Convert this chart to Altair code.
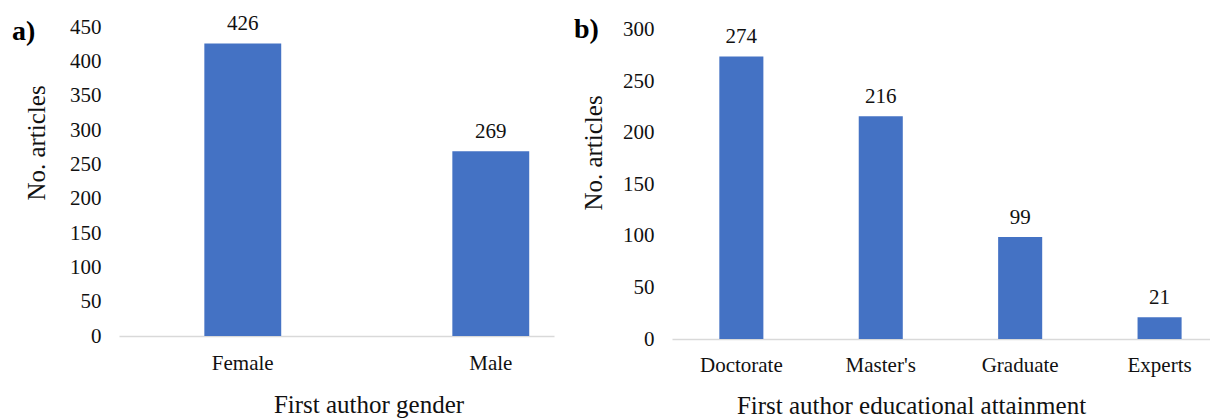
import altair as alt
import pandas as pd

# ---- data ----
gender_cats = ["Female", "Male"]
gender_vals = [426, 269]
edu_cats = ["Doctorate", "Master's", "Graduate", "Experts"]
edu_vals = [274, 216, 99, 21]
ticks_a = [0, 50, 100, 150, 200, 250, 300, 350, 400, 450]
ticks_b = [0, 50, 100, 150, 200, 250, 300]

FONT = "Liberation Serif"
BLUE = "#4472C4"
TXT = "#111111"
AXIS_GRAY = "#D9D9D9"


def panel(cats, vals, ticks, ymax, width, height, xtitle, tag, scale_x, title_x,
          title_y_x, title_y_y, label_pad_x, tag_x, tag_y, title_bottom_y):
    df = pd.DataFrame({"cat": cats, "val": vals})
    base = alt.Chart(df).encode(
        x=alt.X(
            "cat:N",
            sort=cats,
            scale=scale_x,
            axis=alt.Axis(
                title=xtitle,
                labelAngle=0,
                ticks=False,
                tickSize=0,
                labelPadding=label_pad_x,
                labelBaseline="alphabetic",
                labelFont=FONT,
                labelFontSize=21,
                labelColor=TXT,
                titleFont=FONT,
                titleFontSize=25,
                titleFontWeight="normal",
                titleColor=TXT,
                titleX=title_x,
                titleY=title_bottom_y,
                titleBaseline="alphabetic",
                titleAlign="center",
                domainColor=AXIS_GRAY,
                domainWidth=1.5,
                grid=False,
            ),
        ),
        y=alt.Y(
            "val:Q",
            scale=alt.Scale(domain=[0, ymax], nice=False, zero=True),
            axis=alt.Axis(
                values=ticks,
                title="No. articles",
                domain=False,
                ticks=False,
                tickSize=0,
                grid=False,
                labelPadding=18,
                labelFont=FONT,
                labelFontSize=21,
                labelColor=TXT,
                titleFont=FONT,
                titleFontSize=25,
                titleFontWeight="normal",
                titleColor=TXT,
                titleAngle=-90,
                titleX=title_y_x,
                titleY=title_y_y,
                titleBaseline="alphabetic",
                titleAlign="center",
            ),
        ),
    )
    bars = base.mark_bar(color=BLUE)
    labels = base.mark_text(
        dy=-13, baseline="alphabetic", fontSize=21, font=FONT, color=TXT
    ).encode(text="val:Q")
    tag_chart = alt.Chart(pd.DataFrame({"t": [tag]})).mark_text(
        align="left", baseline="alphabetic", fontSize=28, fontWeight="bold",
        font=FONT, color="#000000"
    ).encode(x=alt.value(tag_x), y=alt.value(tag_y), text="t:N")
    return alt.layer(bars, labels, tag_chart).properties(
        width=width, height=height,
        view=alt.ViewBackground(stroke="transparent", strokeWidth=0),
    )


panel_a = panel(
    gender_cats, gender_vals, ticks_a, 450, 435, 309,
    "First author gender", "a)",
    alt.Scale(paddingInner=0.69, paddingOuter=0.222, align=0.775),
    title_x=249.5, title_y_x=-75, title_y_y=115.5, label_pad_x=33,
    tag_x=-107, tag_y=13, title_bottom_y=76,
)

panel_b = panel(
    edu_cats, edu_vals, ticks_b, 302.6, 538, 312,
    "First author educational attainment", "b)",
    alt.Scale(paddingInner=0.684, paddingOuter=0.2716, align=0.625),
    title_x=239, title_y_x=-71, title_y_y=125.5, label_pad_x=32,
    tag_x=-98, tag_y=11, title_bottom_y=74,
)

chart = (
    alt.hconcat(panel_a, panel_b, spacing=118, bounds="flush")
    .properties(padding={"left": 4, "top": 5, "right": 0, "bottom": 0})
    .configure_view(stroke="transparent", strokeWidth=0)
    .configure(font=FONT)
)

chart.save("out.html", embed_options={"renderer": "svg", "actions": False})
